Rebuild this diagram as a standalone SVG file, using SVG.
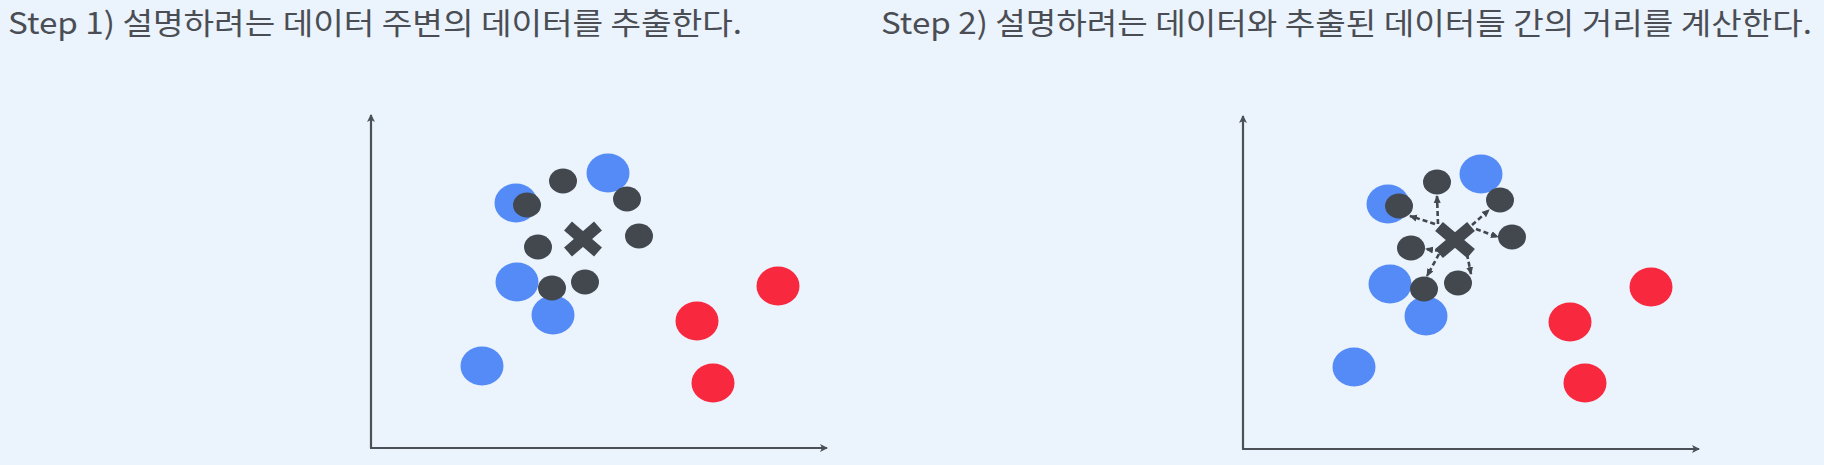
<svg xmlns="http://www.w3.org/2000/svg" width="1824" height="465" viewBox="0 0 1824 465">
<style>
.title{font-family:"Noto Sans CJK KR","Noto Sans",sans-serif;font-size:30px;fill:#4a4e54;}
.blue{fill:#558bf7;}
.red{fill:#f8283e;}
.dark{fill:#43484e;}
.axis{stroke:#4b5057;stroke-width:2.2;fill:none;}
.cross{stroke:#43484e;stroke-width:12;stroke-linecap:butt;fill:none;}
.dist{stroke:#43484e;stroke-width:2.6;stroke-dasharray:5 3;fill:none;}
</style>
<defs>
<marker id="axhead" markerWidth="10" markerHeight="10" refX="8" refY="5" orient="auto" markerUnits="userSpaceOnUse">
<path d="M1,1 L9,5 L1,9 L3,5 Z" fill="#4b5057"/>
</marker>
<marker id="dhead" markerWidth="8" markerHeight="8" refX="7" refY="4" orient="auto" markerUnits="userSpaceOnUse">
<path d="M0,0.5 L8,4 L0,7.5 Z" fill="#43484e"/>
</marker>
<g id="xmark">
<line class="cross" x1="-15" y1="-13" x2="15" y2="13"/>
<line class="cross" x1="-15" y1="13" x2="15" y2="-13"/>
</g>
<g id="xmark2">
<line class="cross" x1="-16" y1="-13.5" x2="16" y2="13.5"/>
<line class="cross" x1="-16" y1="13.5" x2="16" y2="-13.5"/>
</g>
</defs>
<rect x="0" y="0" width="1824" height="465" fill="#ebf3fc"/>

<g id="title1"><text class="title" x="8" y="34" textLength="734" lengthAdjust="spacingAndGlyphs">Step 1) 설명하려는 데이터 주변의 데이터를 추출한다.</text></g>
<g id="title2"><text class="title" x="881" y="34" textLength="931" lengthAdjust="spacingAndGlyphs">Step 2) 설명하려는 데이터와 추출된 데이터들 간의 거리를 계산한다.</text></g>

<g id="axes1">
<path class="axis" d="M371,448 L371,115" marker-end="url(#axhead)"/>
<path class="axis" d="M370,448 L827,448" marker-end="url(#axhead)"/>
</g>
<g id="axes2">
<path class="axis" d="M1243,449 L1243,116" marker-end="url(#axhead)"/>
<path class="axis" d="M1242,449 L1699,449" marker-end="url(#axhead)"/>
</g>

<g id="plot1">
<g id="p1-blue">
<ellipse class="blue" cx="516" cy="203" rx="21.5" ry="19.5"/>
<ellipse class="blue" cx="608" cy="173" rx="21.5" ry="19.5"/>
<ellipse class="blue" cx="517" cy="282" rx="21.5" ry="19.5"/>
<ellipse class="blue" cx="553" cy="315" rx="21.5" ry="19.5"/>
<ellipse class="blue" cx="482" cy="366" rx="21.5" ry="19.5"/>
</g>
<g id="p1-red">
<ellipse class="red" cx="778" cy="286" rx="21.5" ry="19.5"/>
<ellipse class="red" cx="697" cy="321" rx="21.5" ry="19.5"/>
<ellipse class="red" cx="713" cy="383" rx="21.5" ry="19.5"/>
</g>
<g id="p1-neighbors">
<ellipse class="dark" cx="527" cy="205" rx="14" ry="12.5"/>
<ellipse class="dark" cx="563" cy="181" rx="14" ry="12.5"/>
<ellipse class="dark" cx="627" cy="199" rx="14" ry="12.5"/>
<ellipse class="dark" cx="639" cy="236" rx="14" ry="12.5"/>
<ellipse class="dark" cx="538" cy="247" rx="14" ry="12.5"/>
<ellipse class="dark" cx="552" cy="288" rx="14" ry="12.5"/>
<ellipse class="dark" cx="585" cy="282" rx="14" ry="12.5"/>
</g>
<g id="p1-target"><use href="#xmark" x="583" y="239"/></g>
</g>

<g id="plot2">
<g id="p2-blue">
<ellipse class="blue" cx="1388" cy="204" rx="21.5" ry="19.5"/>
<ellipse class="blue" cx="1481" cy="174" rx="21.5" ry="19.5"/>
<ellipse class="blue" cx="1390" cy="284" rx="21.5" ry="19.5"/>
<ellipse class="blue" cx="1426" cy="316" rx="21.5" ry="19.5"/>
<ellipse class="blue" cx="1354" cy="367" rx="21.5" ry="19.5"/>
</g>
<g id="p2-red">
<ellipse class="red" cx="1651" cy="287" rx="21.5" ry="19.5"/>
<ellipse class="red" cx="1570" cy="322" rx="21.5" ry="19.5"/>
<ellipse class="red" cx="1585" cy="383" rx="21.5" ry="19.5"/>
</g>
<g id="p2-neighbors">
<ellipse class="dark" cx="1399" cy="206" rx="14" ry="12.5"/>
<ellipse class="dark" cx="1437" cy="182" rx="14" ry="12.5"/>
<ellipse class="dark" cx="1500" cy="200" rx="14" ry="12.5"/>
<ellipse class="dark" cx="1512" cy="237" rx="14" ry="12.5"/>
<ellipse class="dark" cx="1411" cy="248" rx="14" ry="12.5"/>
<ellipse class="dark" cx="1424" cy="289" rx="14" ry="12.5"/>
<ellipse class="dark" cx="1458" cy="283" rx="14" ry="12.5"/>
</g>
<g id="connectors">
<path class="dist" d="M1438,224 L1437,196" marker-end="url(#dhead)"/>
<path class="dist" d="M1435,224 L1410,216" marker-end="url(#dhead)"/>
<path class="dist" d="M1472,225 L1489,210" marker-end="url(#dhead)"/>
<path class="dist" d="M1476,229 L1498,237" marker-end="url(#dhead)"/>
<path class="dist" d="M1440,251 L1426,249" marker-end="url(#dhead)"/>
<path class="dist" d="M1439,254 L1427,276" marker-end="url(#dhead)"/>
<path class="dist" d="M1467,254 L1471,274" marker-end="url(#dhead)"/>
</g>
<g id="p2-target"><use href="#xmark2" x="1455" y="240"/></g>
</g>
</svg>
